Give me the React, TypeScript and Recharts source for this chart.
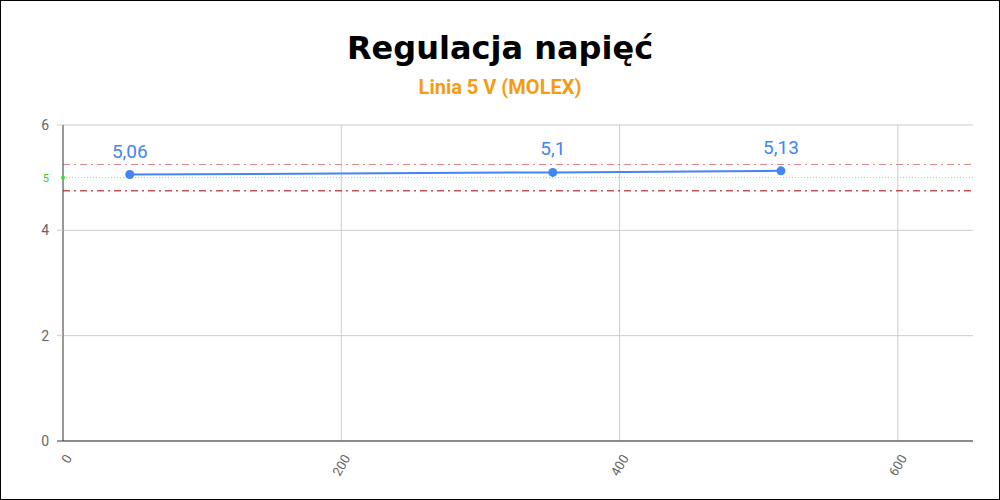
import React from "react";
import {
  LineChart,
  Line,
  XAxis,
  YAxis,
  CartesianGrid,
  ReferenceLine,
  LabelList,
} from "recharts";

// pomiary: obciążenie (W) i napięcie (V)
const loads = [48, 352, 516];
const voltages = [5.06, 5.1, 5.13];

const xTicks = [0, 200, 400, 600];
const yTicks = [0, 2, 4, 5, 6];
const gridY = [0, 2, 4, 6];

const nominal = 5;
const upperLimit = 5.25;
const lowerLimit = 4.75;

const data = loads.map((x, i) => ({ x, v: voltages[i] }));

const fmt = (v: unknown) => String(v).replace(".", ",");

function YTick(props: any) {
  const { x, y, payload } = props;
  if (payload.value === nominal) {
    return (
      <g>
        <circle cx={x + 8} cy={y} r={2} fill="#33dd33" />
        <text x={x - 6} y={y} dy={4} textAnchor="end" fontSize={11} fill="#33cc33" fontFamily="Roboto">
          5
        </text>
      </g>
    );
  }
  return (
    <g>
      <line x1={x + 2} x2={x + 8} y1={y} y2={y} stroke={payload.value === 0 ? "#333" : "#ccc"} />
      <text x={x - 6} y={y} dy={5} textAnchor="end" fontSize={14} fill="#666" fontFamily="Roboto">
        {payload.value}
      </text>
    </g>
  );
}

function XTick(props: any) {
  const { x, y, payload } = props;
  return (
    <text
      x={x + 6}
      y={y + 7}
      textAnchor="end"
      fontSize={13}
      fill="#666"
      fontFamily="Roboto"
      transform={`rotate(-60 ${x + 6} ${y + 7})`}
      dy={4}
    >
      {payload.value}
    </text>
  );
}

export default function App() {
  return (
    <div style={{ position: "fixed", left: 0, top: 0, width: 1000, height: 500, background: "#fff" }}>
      <div
        style={{
          position: "absolute",
          top: 29,
          width: 1000,
          textAlign: "center",
          fontFamily: "DejaVu Sans",
          fontWeight: "bold",
          fontSize: 32,
          color: "#000",
        }}
      >
        Regulacja napięć
      </div>
      <div
        style={{
          position: "absolute",
          top: 75,
          width: 1000,
          textAlign: "center",
          fontFamily: "Roboto",
          fontWeight: "bold",
          fontSize: 20,
          color: "#f39c12",
        }}
      >
        Linia 5 V (MOLEX)
      </div>
      <div style={{ position: "absolute", left: 0, top: 0 }}>
        <LineChart width={1000} height={500} data={data} margin={{ top: 125, right: 27, bottom: 0, left: 0 }}>
          <CartesianGrid stroke="#ccc" horizontalValues={gridY} verticalValues={[200, 400, 600]} />
          <XAxis
            dataKey="x"
            type="number"
            domain={[0, 654]}
            ticks={xTicks}
            height={59}
            stroke="#333"
            tickLine={false}
            tick={<XTick />}
            interval={0}
          />
          <YAxis
            type="number"
            domain={[0, 6]}
            ticks={yTicks}
            width={63}
            stroke="#333"
            tickLine={false}
            tick={<YTick />}
            interval={0}
          />
          <ReferenceLine y={upperLimit} stroke="#dd8888" strokeDasharray="7 4 2 4" />
          <ReferenceLine y={lowerLimit} stroke="#a00000" strokeDasharray="7 4 2 4" />
          <ReferenceLine y={nominal} stroke="#66ee66" strokeDasharray="1 2" />
          <Line
            dataKey="v"
            stroke="#4285f4"
            strokeWidth={2}
            dot={{ r: 4.5, fill: "#4285f4", stroke: "#4285f4", strokeWidth: 0 }}
            isAnimationActive={false}
          >
            <LabelList dataKey="v" position="top" offset={17} fontSize={19} fill="#4285f4" fontFamily="Roboto" formatter={fmt} />
          </Line>
        </LineChart>
      </div>
      <div
        style={{
          position: "absolute",
          left: 0,
          top: 0,
          width: 1000,
          height: 500,
          border: "1px solid #000",
          boxSizing: "border-box",
          pointerEvents: "none",
        }}
      />
    </div>
  );
}
